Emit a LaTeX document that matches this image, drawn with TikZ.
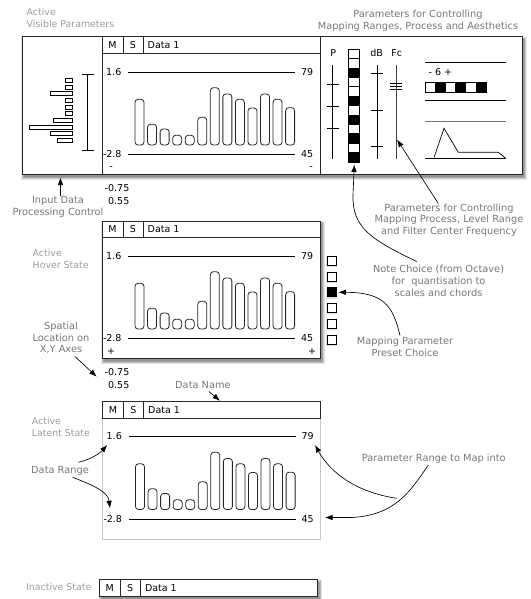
\documentclass[tikz,border=0pt]{standalone}
\usepackage{fontspec}
\setmainfont{DejaVu Sans}
\usetikzlibrary{arrows.meta}
\definecolor{anngray}{RGB}{120,120,120}
\definecolor{stategray}{RGB}{158,158,158}
\definecolor{boxgray}{RGB}{40,40,40}
\definecolor{lightbox}{RGB}{200,200,200}
\newcommand\mysoftshadow[4]{%
  \foreach \k in {0,1,2,3,4}{%
    \fill[black, fill opacity=0.1] ({#1+2-\k*0.7},{#2+2.8-\k*0.7}) rectangle ({#3+2+\k*0.7},{#4+2.8+\k*0.7});
  }}
\tikzset{
  boxline/.style={draw=boxgray, line width=1pt},
  thinline/.style={draw=black, line width=0.7pt},
  barstyle/.style={draw=black!85, line width=0.8pt, rounded corners=3pt},
  hbar/.style={draw=black, line width=0.6pt},
  ctext/.style={font=\fontsize{9.5}{11}\selectfont, inner sep=0pt, text=black},
  state/.style={font=\fontsize{9.4}{12.3}\selectfont, inner sep=0pt, text=stategray, align=left, anchor=west},
  ann/.style={font=\fontsize{9.8}{11.7}\selectfont, inner sep=0pt, text=anngray, align=center},
  arr/.style={-{Latex[length=7.5pt,width=5.5pt]}, line width=0.65pt, draw=black},
  chartheader/.pic={
    \draw[boxline, fill=white] (0,0) rectangle (218,16.5);
    \draw[boxline] (21,0) -- (21,16.5) (41,0) -- (41,16.5);
    \node[ctext] (-m) at (10.5,8.3) {M};
    \node[ctext] (-s) at (30.8,8.3) {S};
    \node[ctext, anchor=west] (-name) at (45.5,8.3) {Data 1};
  },
  chartbody/.pic={
    \node[ctext, anchor=west] (-dhi) at (4,35) {1.6};
    \node[ctext, anchor=west] (-phi) at (199,35) {79};
    \node[ctext, anchor=west] (-dlo) at (0.8,117.5) {-2.8};
    \node[ctext, anchor=west] (-plo) at (199,117.5) {45};
    \draw[thinline] (26,35) -- (193,35);
    \draw[thinline] (26,117.5) -- (193,117.5);
    \foreach \t [count=\i from 0] in {62.3,87.3,92,98.3,98.3,80.3,50.7,57,62.3,71,57,62.3,70.7}
      \draw[barstyle] ({33+12.55*\i},108) rectangle ({42+12.55*\i},\t);
  },
}
\begin{document}
\begin{tikzpicture}[x=1pt,y=-1pt]
\fill[white] (0,0) rectangle (530,599);
\useasboundingbox (0,0) rectangle (530,599);

% ---------- top (visible) box ----------
\mysoftshadow{22}{37}{522}{174}
\draw[boxline, fill=white] (22,37) rectangle (522,174);
\draw[boxline] (102,37) -- (102,174) (320,37) -- (320,174);
\pic (vis) at (102,37) {chartheader};
\pic (visb) at (102,37) {chartbody};
\node[ctext] (vism1) at (111,168) {-};
\node[ctext] (vism2) at (311,168) {-};

% histogram (left panel)
\foreach \l [count=\i from 0] in {65,65,50,65,65,65,53,29,50,57}
  \draw[hbar] (\l,{78.3+6.67*\i}) rectangle (72.3,{82.3+6.67*\i});
\draw[thinline] (87.7,74) -- (87.7,150.7);
\draw[thinline] (82,74) -- (93.5,74) (82,150.7) -- (93.5,150.7);

% right panel
\node[ctext] (tP) at (333.3,53.3) {P};
\node[ctext] (tdB) at (376.7,53.3) {dB};
\node[ctext] (tFc) at (396.7,53.3) {Fc};
\draw[thinline] (332.5,65) -- (332.5,159);
\foreach \y in {84,106,128} \draw[thinline] (326.5,\y) -- (338.5,\y);
\draw[thinline] (377,65) -- (377,159);
\foreach \y in {73,110,146} \draw[thinline] (371,\y) -- (383,\y);
\draw[line width=0.7pt, draw=black!75] (396.3,65) -- (396.3,159);
\foreach \y in {83,86,89} \draw[thinline] (390.3,\y) -- (402.3,\y);
\foreach \i in {0,...,11}
  \draw[hbar, fill=white] (348,{49+9.42*\i}) rectangle (359,{49+9.42*(\i+1)});
\foreach \i in {2,5,7,9,11}
  \draw[hbar, fill=black] (348,{49+9.42*\i}) rectangle (359,{49+9.42*(\i+1)});
\draw[thinline] (425,62.7) -- (506,62.7);
\node[ctext, anchor=west] (oct) at (428.5,72) {- 6 +};
\foreach \i in {0,...,5}
  \draw[hbar, fill=white] ({425+10.17*\i},82.7) rectangle ({425+10.17*(\i+1)},92.7);
\foreach \i in {1,3,5}
  \draw[hbar, fill=black] ({425+10.17*\i},82.7) rectangle ({425+10.17*(\i+1)},92.7);
\draw[thinline] (425,100.7) -- (506,100.7);
\draw[line width=0.7pt, draw=black!55] (425,121.7) -- (506,121.7);
\draw[thinline] (425,158.5) -- (506,158.5);
\draw[thinline] (434,157.5) -- (444,128.3) -- (458.3,152.3) -- (498.3,152.3) -- (505.7,158.3);

% ---------- hover box ----------
\mysoftshadow{102}{221}{320}{358.5}
\draw[boxline, fill=white] (102,221) rectangle (320,358.5);
\pic (hov) at (102,221) {chartheader};
\pic (hovb) at (102,221) {chartbody};
\node[ctext] (hovp1) at (111,351.7) {+};
\node[ctext] (hovp2) at (312,351.7) {+};
\foreach \i in {0,...,5}{
  \fill[black, fill opacity=0.12] ({327.5-1.2},{256+15.8*\i+1.2}) rectangle ({336.5+0.8},{265+15.8*\i+2});
  \draw[hbar, fill=white] (327.5,{256+15.8*\i}) rectangle (336.5,{265+15.8*\i});
}
\draw[hbar, fill=black] (327.5,{256+15.8*2}) rectangle (336.5,{265+15.8*2});

% ---------- latent box ----------
\draw[draw=lightbox, line width=0.9pt, fill=white] (102.5,401.5) rectangle (320.5,539);
\pic (lat) at (102.5,401.5) {chartheader};
\pic (latb) at (102.5,401.5) {chartbody};

% ---------- inactive ----------
\mysoftshadow{99.3}{579.5}{317.3}{596}
\pic (ina) at (99.3,579.5) {chartheader};

% ---------- values ----------
\node[ctext, anchor=east] (v1a) at (129.5,188) {-0.75};
\node[ctext, anchor=east] (v1b) at (129.5,201.5) {0.55};
\node[ctext, anchor=east] (v2a) at (129.5,371.7) {-0.75};
\node[ctext, anchor=east] (v2b) at (129.5,385) {0.55};

% ---------- state labels ----------
\node[state] (lvis) at (26.5,18) {Active\\Visible Parameters};
\node[state] (lhov) at (32.5,258.7) {Active\\Hover State};
\node[state] (llat) at (31.7,427) {Active\\Latent State};
\node[state] (lina) at (26,587.2) {Inactive State};

% ---------- annotations and arrows ----------
\node[ann] (lmap) at (418,20.5) {Parameters for Controlling\\Mapping Ranges, Process and Aesthetics};

\node[ann] (linp) at (58,206.7) {Input Data\\Processing Control};
\coordinate (inpH) at (60.5,177.5);
\draw[arr] (linp.north -| inpH) -- (inpH);

\node[ann] (lfc) at (449,220) {Parameters for Controlling\\Mapping Process, Level Range\\and Filter Center Frequency};
\coordinate (fcT) at (438.3,203.5);
\coordinate (fcH) at (397,139.5);
\draw[arr] (fcT) -- (fcH);

\node[ann] (lnote) at (438.6,280.7) {Note Choice (from Octave)\\for~ quantisation to\\scales and chords};
\coordinate (noteT) at (416.7,261.5);
\coordinate (noteH) at (354.3,164.5);
\draw[arr] (noteT) .. controls (372,240) and (352,228) .. (353,195) -- (noteH);

\node[ann] (lpre) at (405,347) {Mapping Parameter\\Preset Choice};
\coordinate (preT) at (400,335.5);
\coordinate (preH) at (338.3,292.3);
\draw[arr] (preT) .. controls (393,306) and (384,292.3) .. (preH);

\node[ann] (lspa) at (61,338) {Spatial\\Location on\\X,Y Axes};
\coordinate (spaT) at (75,356.5);
\coordinate (spaH) at (96.7,376.7);
\draw[arr] (spaT) -- (spaH);

\node[ann, anchor=west] (ldn) at (175,385) {Data Name};
\coordinate (dnT) at (209,391.5);
\coordinate (dnH) at (220,400.8);
\draw[arr] (dnT) -- (dnH);

\node[ann, anchor=west] (ldr) at (31,470.5) {Data Range};
\coordinate (drT1) at (78.5,462.3);
\coordinate (drH1) at (107.3,445);
\coordinate (drT2) at (72.7,477.3);
\coordinate (drH2) at (110,508.3);
\draw[arr] (drT1) .. controls (92,459) and (100,453) .. (drH1);
\draw[arr] (drT2) .. controls (95,486) and (108,492) .. (drH2);

\node[ann, anchor=west] (lprm) at (361.7,458.5) {Parameter Range to Map into};
\coordinate (prT) at (428.3,465);
\coordinate (prJ) at (396.7,498.3);
\coordinate (prH1) at (315,445);
\coordinate (prH2) at (325,517.5);
\draw[arr] (prT) .. controls (410,492) and (395,515) .. (352,517.5) -- (prH2);
\draw[arr] (prJ) .. controls (355,492) and (330,472) .. (prH1);
\end{tikzpicture}
\end{document}
